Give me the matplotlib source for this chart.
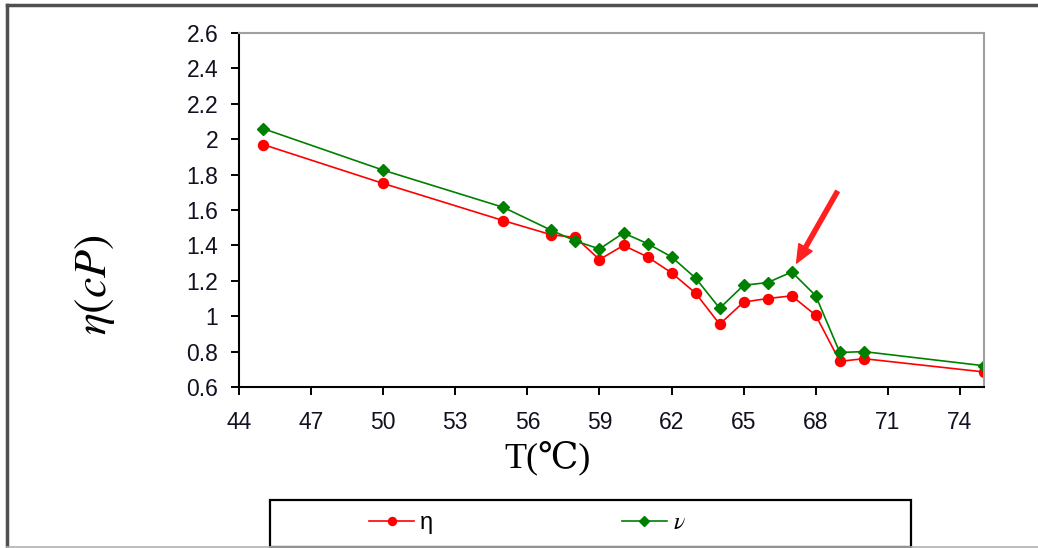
import numpy as np
import matplotlib.pyplot as plt
from matplotlib.lines import Line2D
from matplotlib.patches import Rectangle

plt.rcParams['mathtext.fontset'] = 'stix'
plt.rcParams['font.family'] = ['Liberation Sans', 'DejaVu Sans']

# temperature (deg C) and the two measured series
T = [45, 50, 55, 57, 58, 59, 60, 61, 62, 63, 64, 65, 66, 67, 68, 69, 70, 75]
eta = [1.97, 1.75, 1.54, 1.46, 1.445, 1.32, 1.40, 1.335, 1.245, 1.13, 0.955,
       1.08, 1.10, 1.115, 1.005, 0.745, 0.76, 0.685]
nu = [2.06, 1.825, 1.615, 1.485, 1.425, 1.38, 1.47, 1.41, 1.335, 1.215, 1.045,
      1.175, 1.19, 1.25, 1.115, 0.795, 0.80, 0.72]

xticks = np.arange(44, 75, 3)
yticks = np.round(np.arange(0.6, 2.61, 0.2), 1)

fig = plt.figure(figsize=(10.38, 5.48), dpi=100)
ax = fig.add_axes([239 / 1038, 1 - 387 / 548, (984 - 239) / 1038, (387 - 33) / 548])

ax.plot(T, eta, color='#ff0000', lw=1.2, marker='o', ms=7.2, label='η')
ax.plot(T, nu, color='#008000', lw=1.2, marker='D', ms=6.3, label=r'$\nu$')

ax.set_xlim(44, 75)
ax.set_ylim(0.6, 2.6)
ax.set_xticks(xticks)
ax.set_yticks(yticks)
ax.set_yticklabels(['%g' % v for v in yticks])
ax.tick_params(direction='out', length=6, width=1.4, labelsize=16.5,
               labelcolor='#111122')
ax.tick_params(axis='y', pad=9)
ax.tick_params(axis='x', pad=11)

for side in ['left', 'bottom']:
    ax.spines[side].set_color('black')
    ax.spines[side].set_linewidth(1.5)
for side in ['top', 'right']:
    ax.spines[side].set_color('#a0a0a0')
    ax.spines[side].set_linewidth(1.5)

# arrow pointing at the peak near 67 C
ax.annotate('', xy=(67.2, 1.30), xytext=(68.9, 1.705),
            arrowprops=dict(facecolor='#ff2020', edgecolor='#ff2020',
                            width=3, headwidth=11, headlength=13))

fig.text(548 / 1038, 1 - 458 / 548, 'T(℃)', ha='center', va='center',
         fontsize=26, family=['Liberation Serif', 'DejaVu Serif'])
fig.text(95 / 1038, 1 - 285 / 548, r'$\eta(cP)$', ha='center', va='center',
         fontsize=33, rotation=90)

# legend with its own frame along the bottom edge
fig.add_artist(Rectangle((270 / 1038, 0.002), (911 - 270) / 1038, 47 / 548,
                         transform=fig.transFigure, fill=False,
                         edgecolor='black', lw=1.6))
fig.legend(loc='center left', bbox_to_anchor=(348 / 1038, 1 - 523 / 548),
           ncol=2, frameon=False, fontsize=17, handlelength=1.9,
           handletextpad=0.25, columnspacing=8.0, markerscale=0.8)

# outer border of the figure
fig.add_artist(Line2D([7 / 1038, 1], [1 - 5 / 548] * 2, transform=fig.transFigure,
                      color='#505050', lw=2.5))
fig.add_artist(Line2D([7 / 1038] * 2, [0, 1 - 5 / 548], transform=fig.transFigure,
                      color='#505050', lw=2.5))
fig.add_artist(Line2D([7 / 1038, 1], [0.002] * 2, transform=fig.transFigure,
                      color='#b0b0b0', lw=1.2))

fig.savefig('out.png', dpi=100)
